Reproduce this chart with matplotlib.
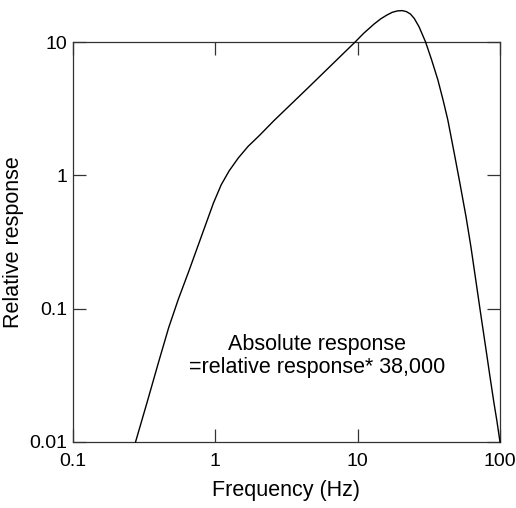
import numpy as np
import matplotlib
matplotlib.use('Agg')
import matplotlib.pyplot as plt
from matplotlib.ticker import FixedLocator, FixedFormatter, NullLocator

plt.rcParams['font.family'] = ['Liberation Sans', 'DejaVu Sans']

# traced response curve
freq = [0.275, 0.33, 0.40, 0.47, 0.55, 0.65, 0.75, 0.85, 0.97, 1.10,
        1.25, 1.45, 1.70, 2.05, 2.56, 4.45, 9.6, 11.0, 13.0, 14.5,
        16.0, 17.5, 19.0, 20.5, 22.0, 23.5, 25.0, 27.0, 30.0, 33.0,
        36.6, 40.0, 43.0, 47.5, 52.0, 57.7, 62.5, 67.8, 73.0, 79.6,
        85.0, 90.7, 95.0, 100.0]
response = [0.010, 0.0195, 0.040, 0.072, 0.118, 0.19, 0.29, 0.42, 0.62, 0.85,
            1.08, 1.35, 1.65, 2.00, 2.55, 4.50, 10.0, 11.6, 13.6, 14.9,
            15.9, 16.7, 17.1, 17.2, 16.9, 16.2, 15.0, 13.0, 10.0, 7.4,
            5.2, 3.6, 2.6, 1.5, 0.9, 0.49, 0.29, 0.16, 0.093, 0.05,
            0.031, 0.0196, 0.0145, 0.010]

x_ticks = [0.1, 1, 10, 100]
x_labels = ['0.1', '1', '10', '100']
y_ticks = [0.01, 0.1, 1, 10]
y_labels = ['0.01', '0.1', '1', '10']

note = 'Absolute response\n=relative response* 38,000'

fig = plt.figure(figsize=(5.16, 5.08), dpi=100)
ax = fig.add_axes([73 / 516, 1 - 442 / 508, 427 / 516, 400 / 508])

ax.plot(freq, response, color='black', lw=1.0, clip_on=False, zorder=5)

ax.set_xscale('log')
ax.set_yscale('log')
ax.set_xlim(0.1, 100)
ax.set_ylim(0.01, 10)

ax.xaxis.set_major_locator(FixedLocator(x_ticks))
ax.xaxis.set_major_formatter(FixedFormatter(x_labels))
ax.yaxis.set_major_locator(FixedLocator(y_ticks))
ax.yaxis.set_major_formatter(FixedFormatter(y_labels))
ax.xaxis.set_minor_locator(NullLocator())
ax.yaxis.set_minor_locator(NullLocator())

ax.tick_params(axis='both', which='major', direction='in', length=9.5, width=0.9,
               color='#333333', labelsize=14, top=True, right=True)
ax.tick_params(axis='x', pad=8)
ax.tick_params(axis='y', pad=4)

for sp in ax.spines.values():
    sp.set_linewidth(0.9)
    sp.set_color('#333333')

ax.set_xlabel('Frequency (Hz)', fontsize=15.5, labelpad=7)
ax.set_ylabel('Relative response', fontsize=15.5, labelpad=4)

ax.text(0.571, 0.215, note, transform=ax.transAxes, ha='center', va='center',
        multialignment='center', fontsize=15.5, linespacing=1.12)

fig.savefig('out.png', dpi=100)
